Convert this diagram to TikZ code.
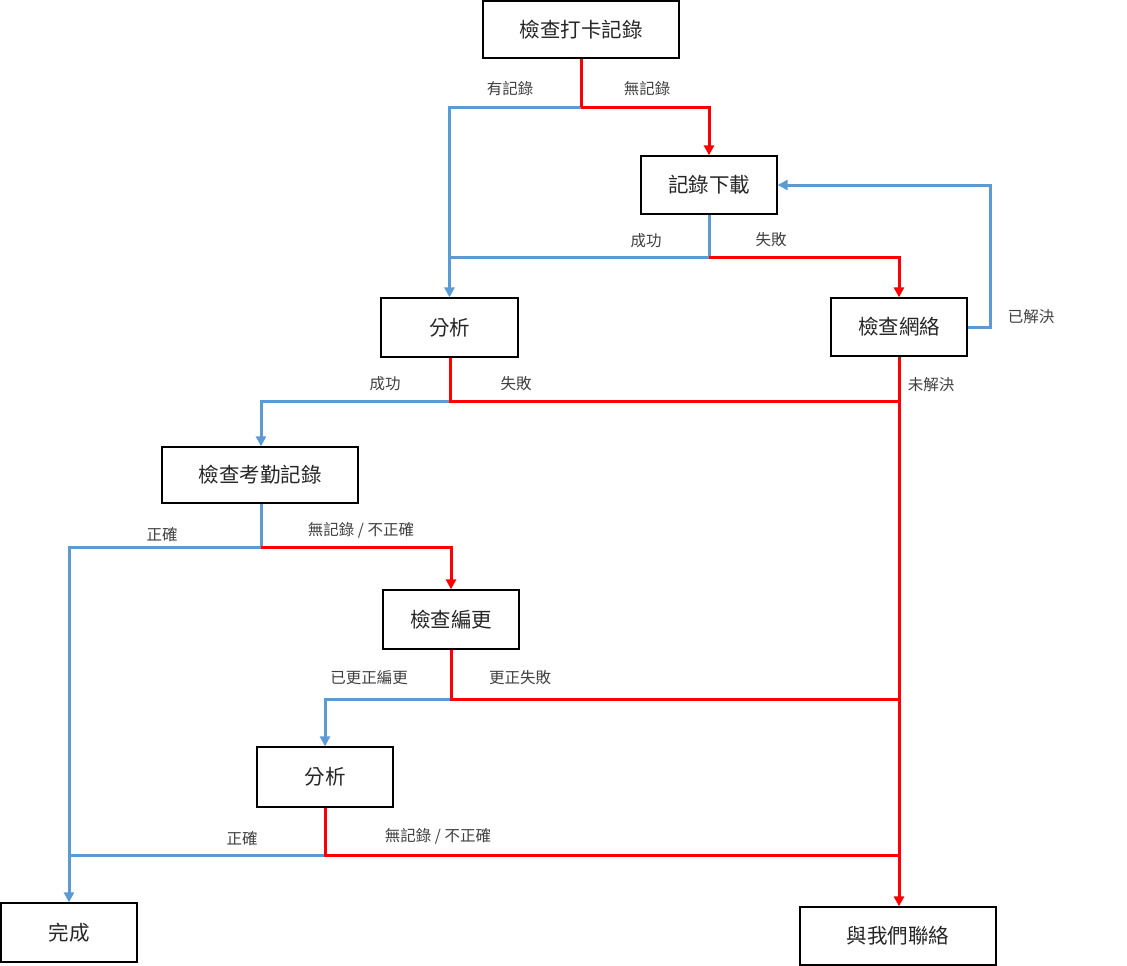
\documentclass[tikz,border=0pt]{standalone}
\usepackage{fontspec}
\newfontfamily\cjk{Noto Sans CJK TC}
\usetikzlibrary{arrows.meta}
\definecolor{lblue}{RGB}{91,155,213}
\definecolor{lred}{RGB}{255,0,0}
\definecolor{txt}{RGB}{38,38,38}
\definecolor{ltxt}{RGB}{64,64,64}
\tikzset{
  box/.style={draw=black, line width=1.3pt, fill=white, inner sep=0pt, text=txt, font=\cjk\fontsize{20.5}{24}\selectfont},
  lbl/.style={text=ltxt, font=\cjk\fontsize{15.5}{18}\selectfont, inner sep=0pt},
  bl/.style={draw=lblue, line width=3pt},
  rd/.style={draw=lred, line width=3pt},
  tip/.style={-{Triangle[length=10pt,width=10pt]}}
}
\begin{document}
\begin{tikzpicture}[x=1pt,y=-1pt]
\useasboundingbox (0,0) rectangle (1127,966);
\fill[white] (0,0) rectangle (1127,966);
% boxes
\node[box, minimum width=196pt, minimum height=57pt] (top) at (581,29.5) {檢查打卡記錄};
\node[box, minimum width=136pt, minimum height=58pt] (dl) at (709,185) {記錄下載};
\node[box, minimum width=137pt, minimum height=59pt] (an1) at (449.5,327.5) {分析};
\node[box, minimum width=136pt, minimum height=58pt] (net) at (899,327) {檢查網絡};
\node[box, minimum width=196pt, minimum height=56pt] (att) at (260,475) {檢查考勤記錄};
\node[box, minimum width=136pt, minimum height=59pt] (sch) at (451,619.5) {檢查編更};
\node[box, minimum width=136pt, minimum height=60pt] (an2) at (325,777) {分析};
\node[box, minimum width=136pt, minimum height=59pt] (done) at (69,932.5) {完成};
\node[box, minimum width=196pt, minimum height=58pt] (contact) at (898,936) {與我們聯絡};
% junction coordinates
\coordinate (j1) at (581,107);
\coordinate (j2) at (709,257);
\coordinate (j3) at (450,401);
\coordinate (j4) at (261,547);
\coordinate (j5) at (451,699);
\coordinate (j6) at (325,855);
\coordinate (rr) at (990,327);
\coordinate (rt) at (990,185);
\coordinate (m3) at (899,401);
\coordinate (m5) at (899,699);
\coordinate (m6) at (899,855);
\coordinate (b4) at (69,547);
\coordinate (b6) at (69,855);
% blue connectors
\draw[bl, tip] (j1) -| (an1.north);
\draw[bl] (dl.south -| j2) -- (j2) -| (450,257);
\draw[bl, tip] (net.east) -- (rr) -- (rt) -- (dl.east);
\draw[bl, tip] (j3) -| (att.north -| 261,0);
\draw[bl] (att.south -| j4) -- (j4);
\draw[bl, tip] (j4) -- (b4) -- (done.north);
\draw[bl, tip] (j5) -| (an2.north);
\draw[bl] (j6) -- (b6);
% red connectors
\draw[rd] (top.south) -- (j1);
\draw[rd, tip] (j1) -| (dl.north);
\draw[rd, tip] (j2) -| (net.north);
\draw[rd, tip] (net.south) -- (contact.north -| net.south);
\draw[rd] (an1.south -| j3) -- (j3) -- (m3);
\draw[rd, tip] (j4) -| (sch.north);
\draw[rd] (sch.south) -- (j5) -- (m5);
\draw[rd] (an2.south) -- (j6) -- (m6);
% labels
\node[lbl] (l1) at (510,89) {有記錄};
\node[lbl] (l2) at (647,89) {無記錄};
\node[lbl] (l3) at (646,241) {成功};
\node[lbl] (l4) at (771,240) {失敗};
\node[lbl] (l5) at (1031,317) {已解決};
\node[lbl] (l6) at (931,385) {未解決};
\node[lbl] (l7) at (385,384) {成功};
\node[lbl] (l8) at (516,384) {失敗};
\node[lbl] (l9) at (162,535) {正確};
\node[lbl] (l10) at (361,530) {無記錄 / 不正確};
\node[lbl] (l11) at (369,678) {已更正編更};
\node[lbl] (l12) at (520,678) {更正失敗};
\node[lbl] (l13) at (242,839) {正確};
\node[lbl] (l14) at (438,836) {無記錄 / 不正確};
\end{tikzpicture}
\end{document}
